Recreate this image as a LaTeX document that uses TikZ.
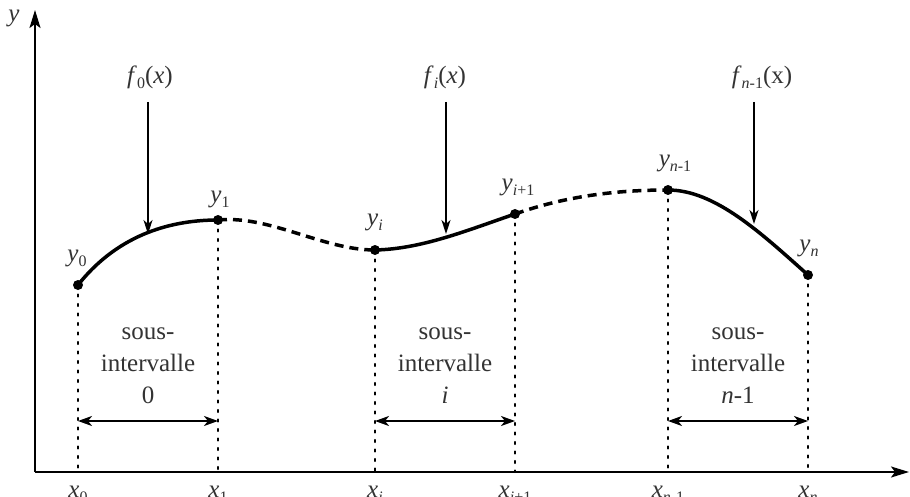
\documentclass[tikz,border=0pt]{standalone}
\usepackage{fontspec}
\setmainfont{Liberation Serif}
\usetikzlibrary{arrows.meta}
\newcommand\subs[1]{\raisebox{-0.45ex}{\fontsize{16}{16}\selectfont #1}}
\begin{document}
\begin{tikzpicture}[x=1pt,y=-1pt,
  every node/.style={text=black!80, font=\fontsize{25}{32}\selectfont},
  axisline/.style={line width=2pt, -{Stealth[length=18pt,width=11pt,inset=4pt]}},
  ptdot/.style={circle, fill=black, inner sep=0pt, minimum size=10pt},
  solidcurve/.style={line width=3.5pt},
  dashcurve/.style={line width=3.5pt, dash pattern=on 9pt off 6pt},
  dotline/.style={line width=2.2pt, dash pattern=on 2pt off 7.5pt, line cap=round},
  dimarrow/.style={line width=2pt, {Stealth[length=14pt,width=10pt,inset=4pt]}-{Stealth[length=14pt,width=10pt,inset=4pt]}},
  farrow/.style={line width=1.6pt, -{Stealth[length=14pt,width=9pt,inset=4pt]}},
  ptlabel/.style={inner sep=0pt},
  boxtext/.style={align=center, inner sep=0pt}]
\useasboundingbox (0,0) rectangle (910,497);
\clip (0,0) rectangle (910,497);
% axes
\coordinate (O) at (35,472);
\coordinate (ytop) at (35,10);
\coordinate (xend) at (909,472);
\draw[axisline] (O) -- (ytop);
\draw[axisline] (O) -- (xend);
\node[ptlabel] (ylab) at (14,18) {\textit{y}};
% points
\node[ptdot] (p0) at (78,285) {};
\node[ptdot] (p1) at (218,220) {};
\node[ptdot] (pi) at (375,250) {};
\node[ptdot] (pj) at (515,214) {};
\node[ptdot] (pm) at (668,190) {};
\node[ptdot] (pn) at (808,275) {};
% base coordinates
\coordinate (b0) at (78,472);
\coordinate (b1) at (218,472);
\coordinate (bi) at (375,472);
\coordinate (bj) at (515,472);
\coordinate (bm) at (668,472);
\coordinate (bn) at (808,472);
% dotted verticals
\foreach \a/\b in {p0/b0,p1/b1,pi/bi,pj/bj,pm/bm,pn/bn}
  \draw[dotline] (\a.center) -- (\b);
% curve
\draw[solidcurve] (p0.center) .. controls (120,232) and (175,220) .. (p1.center);
\draw[dashcurve] (p1.center) .. controls (270,215) and (323,250) .. (pi.center);
\draw[solidcurve] (pi.center) .. controls (422,249) and (468,230) .. (pj.center);
\draw[dashcurve] (pj.center) .. controls (566,196) and (617,190) .. (pm.center);
\draw[solidcurve] (pm.center) .. controls (715,190) and (761,233) .. (pn.center);
% point labels
\node[ptlabel] (ly0) at (77,258) {\textit{y}\subs{0}};
\node[ptlabel] (ly1) at (220,199) {\textit{y}\subs{1}};
\node[ptlabel] (lyi) at (375,222) {\textit{y}\subs{\textit{i}}};
\node[ptlabel] (lyj) at (518,187) {\textit{y}\subs{\textit{i}+1}};
\node[ptlabel] (lym) at (675,163) {\textit{y}\subs{\textit{n}-1}};
\node[ptlabel] (lyn) at (809,248) {\textit{y}\subs{\textit{n}}};
% function labels and arrows
\node[ptlabel] (f0) at (150,77) {\textit{f}\subs{0}(\textit{x})};
\node[ptlabel] (fi) at (445,77) {\textit{f}\subs{\textit{i}}(\textit{x})};
\node[ptlabel] (fm) at (762,77) {\textit{f}\subs{\textit{n}-1}(x)};
\coordinate (t0) at (148,234);
\coordinate (ti) at (446,234);
\coordinate (tm) at (754,224);
\draw[farrow] (148,102) -- (t0);
\draw[farrow] (446,102) -- (ti);
\draw[farrow] (754,102) -- (tm);
% interval arrows
\coordinate (d0l) at (78,421);  \coordinate (d0r) at (218,421);
\coordinate (dil) at (375,421); \coordinate (dir) at (515,421);
\coordinate (dml) at (668,421); \coordinate (dmr) at (808,421);
\draw[dimarrow] (d0l) -- (d0r);
\draw[dimarrow] (dil) -- (dir);
\draw[dimarrow] (dml) -- (dmr);
\node[boxtext] (s0) at (148,366) {sous-\\intervalle\\0};
\node[boxtext] (si) at (445,366) {sous-\\intervalle\\\textit{i}};
\node[boxtext] (sm) at (738,366) {sous-\\intervalle\\\textit{n}-1};
% x labels
\node[ptlabel] (lx0) at (78,494) {\textit{x}\subs{0}};
\node[ptlabel] (lx1) at (218,494) {\textit{x}\subs{1}};
\node[ptlabel] (lxi) at (375,494) {\textit{x}\subs{\textit{i}}};
\node[ptlabel] (lxj) at (515,494) {\textit{x}\subs{\textit{i}+1}};
\node[ptlabel] (lxm) at (668,494) {\textit{x}\subs{\textit{n}-1}};
\node[ptlabel] (lxn) at (808,494) {\textit{x}\subs{\textit{n}}};
\end{tikzpicture}
\end{document}
